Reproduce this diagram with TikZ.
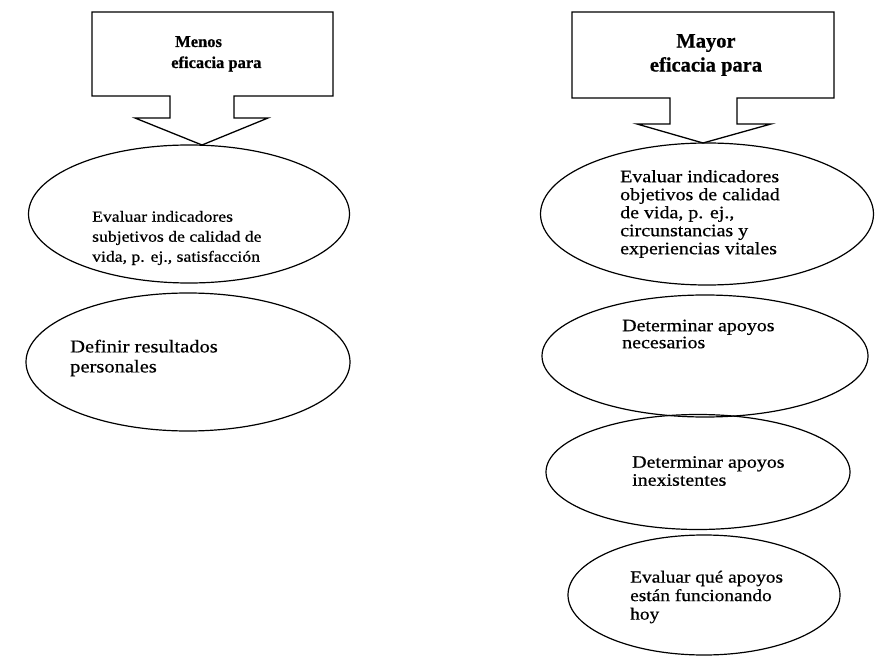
\documentclass[tikz,border=0pt]{standalone}
\usepackage{fontspec}
\setmainfont{Liberation Serif}[FakeBold=0.4]
\newfontfamily\widefont[FakeStretch=1.14, FakeBold=0.6]{Liberation Serif}
\newfontfamily\titlefont[FakeBold=0.6]{Liberation Serif Bold}
\usetikzlibrary{shapes.geometric}
\begin{document}
\begin{tikzpicture}[x=1pt, y=-1pt,
  callout/.style={draw=black, line width=1.3pt, line join=miter, fill=white},
  oval/.style={draw=black, ellipse, line width=1.2pt, inner sep=0pt},
  head/.style={inner sep=0pt, anchor=base west, font=\titlefont\fontsize{16.5}{21}\selectfont},
  txt/.style={inner sep=0pt, anchor=west, align=left}]
\useasboundingbox (0,0) rectangle (886,660);

% left down-arrow callout
\draw[callout] (92,12) -- (333,12) -- (333,96) -- (234,96) -- (234,118)
  -- (268,118) -- (202,145) -- (135,118) -- (170,118) -- (170,96)
  -- (92,96) -- cycle;
\node[head] (tl1) at (175,47) {Menos};
\node[head] (tl2) at (171,68) {eficacia para};

% right down-arrow callout
\draw[callout] (572,12) -- (834,12) -- (834,98) -- (737,98) -- (737,124)
  -- (771,124) -- (703,143) -- (637,124) -- (670,124) -- (670,98)
  -- (572,98) -- cycle;
\node[inner sep=0pt, align=center, font=\titlefont\fontsize{20.5}{24}\selectfont]
  (tr) at (706,55) {Mayor\\eficacia para};

% left column
\node[oval, minimum width=321pt, minimum height=138pt] (e1) at (189,214) {};
\node[txt, font=\widefont\fontsize{15.5}{20}\selectfont] (t1) at (92,238)
  {Evaluar indicadores\\subjetivos de calidad de\\vida, p. ej., satisfacción};

\node[oval, minimum width=324pt, minimum height=138pt] (e2) at (188,362) {};
\node[txt, font=\widefont\fontsize{18}{20}\selectfont] (t2) at (70,358)
  {Definir resultados\\personales};

% right column
\node[oval, minimum width=333pt, minimum height=142pt] (r1) at (707,214) {};
\node[txt, font=\widefont\fontsize{17.5}{18}\selectfont] (u1) at (620,214)
  {Evaluar indicadores\\objetivos de calidad\\de vida, p. ej.,\\circunstancias y\\experiencias vitales};

\node[oval, minimum width=326pt, minimum height=122pt] (r2) at (705,356) {};
\node[txt, font=\widefont\fontsize{17.5}{17}\selectfont] (u2) at (622,334)
  {Determinar apoyos\\necesarios};

\node[oval, minimum width=304pt, minimum height=115pt] (r3) at (698,472) {};
\node[txt, font=\widefont\fontsize{17.5}{18}\selectfont] (u3) at (632,471)
  {Determinar apoyos\\inexistentes};

\node[oval, minimum width=272pt, minimum height=120pt] (r4) at (704,595) {};
\node[txt, font=\widefont\fontsize{17}{18.5}\selectfont] (u4) at (630,597)
  {Evaluar qué apoyos\\están funcionando\\hoy};
\end{tikzpicture}
\end{document}
